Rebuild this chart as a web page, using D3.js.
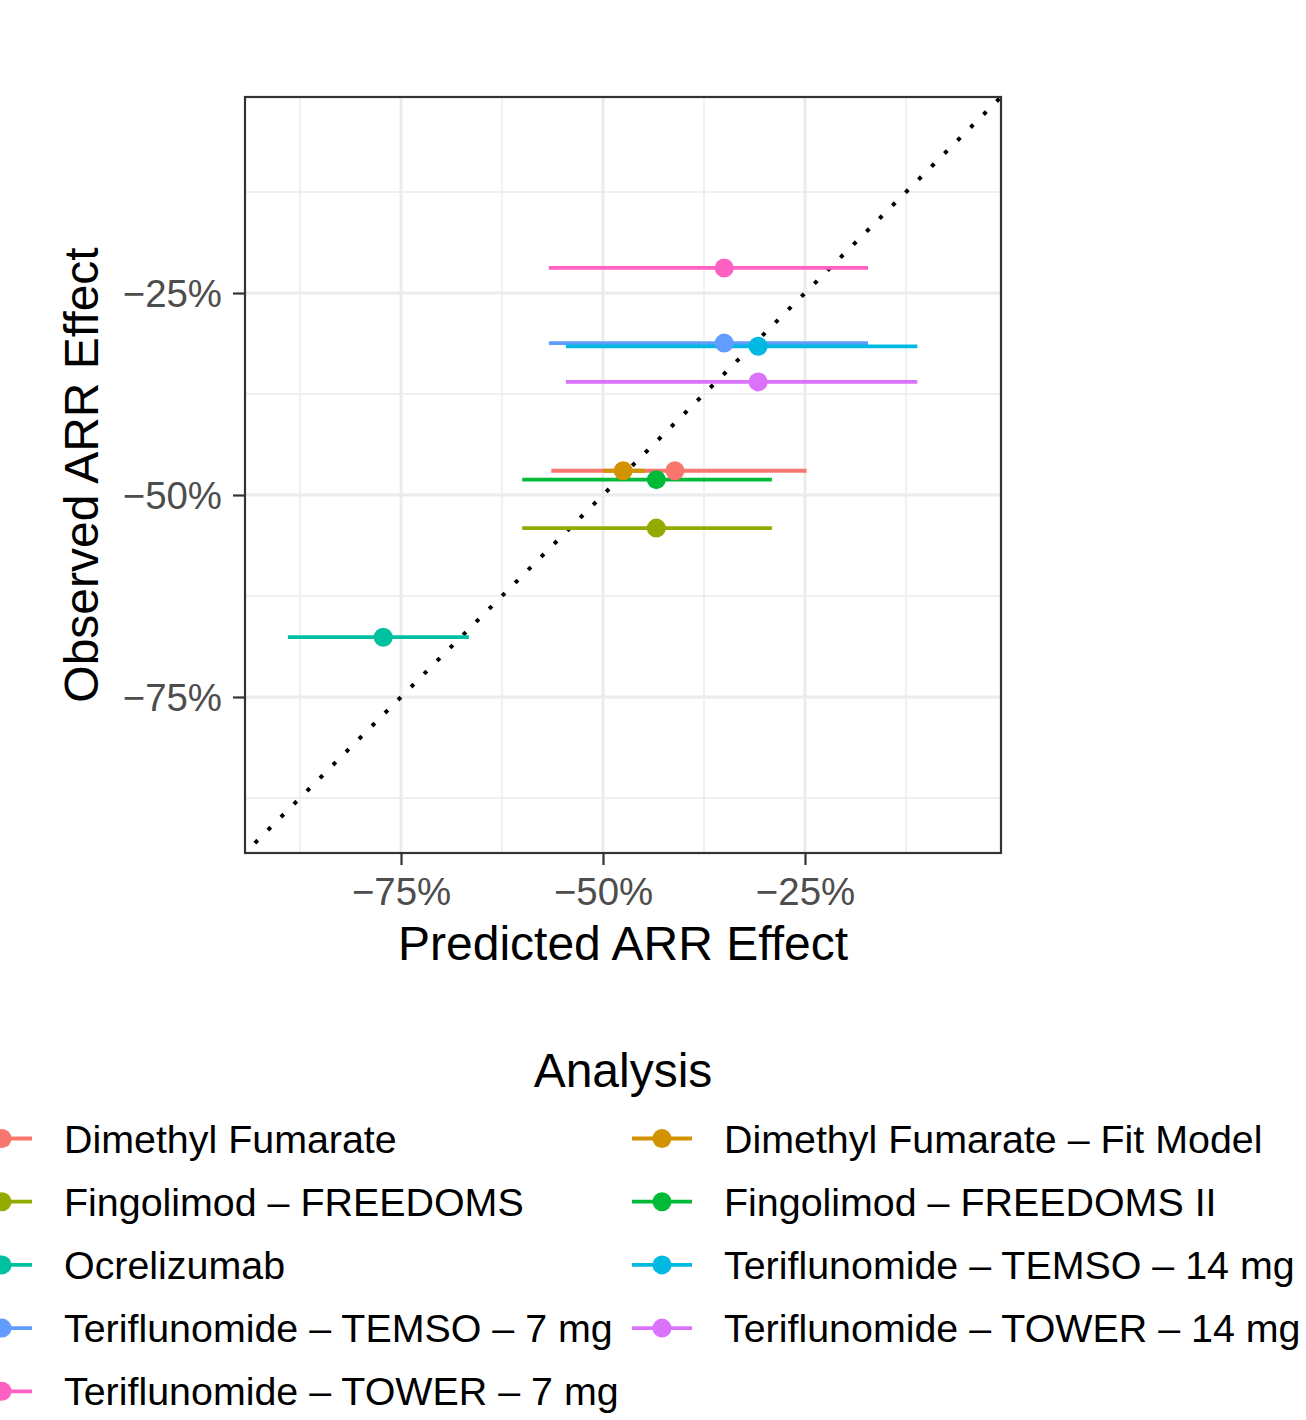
<!DOCTYPE html>
<html><head><meta charset="utf-8">
<script src="https://cdn.jsdelivr.net/npm/d3@7"></script>
<style>body{margin:0;background:#fff;}svg{display:block;font-family:"Liberation Sans",Arial,sans-serif;}</style>
</head><body>
<svg id="chart" width="1306" height="1420"></svg>
<script>
const analyses = ["Dimethyl Fumarate","Dimethyl Fumarate \u2013 Fit Model","Fingolimod \u2013 FREEDOMS","Fingolimod \u2013 FREEDOMS II","Ocrelizumab","Teriflunomide \u2013 TEMSO \u2013 14 mg","Teriflunomide \u2013 TEMSO \u2013 7 mg","Teriflunomide \u2013 TOWER \u2013 14 mg","Teriflunomide \u2013 TOWER \u2013 7 mg"];
const predicted = [-41.1,-47.5,-43.4,-43.4,-77.2,-30.8,-35.0,-30.8,-35.0];
const predLow   = [-56.4,-50.0,-60.0,-60.0,-89.0,-54.6,-56.7,-54.6,-56.7];
const predHigh  = [-24.8,-44.8,-29.1,-29.1,-66.6,-11.1,-17.2,-11.1,-17.2];
const observed  = [-47.0,-47.0,-54.1,-48.1,-67.6,-31.6,-31.2,-36.0,-21.9];
const colors    = ["#F8766D","#D39200","#93AA00","#00BA38","#00C19F","#00B9E3","#619CFF","#DB72FB","#FF61C3"];
const majorTicks = [-75,-50,-25];
const minorTicks = [-87.5,-62.5,-37.5,-12.5];
const domain = [-94.31,-0.74];

// draw order as in reference (TEMSO 7 before TEMSO 14)
const drawOrder = [0,1,2,3,4,6,5,7,8];
// legend columns
const leftCol = [0,2,4,6,8], rightCol = [1,3,5,7];

const svg = d3.select("#chart");
const L=245, R=1001, T=97, B=853;
const x = d3.scaleLinear().domain(domain).range([L,R]);
const y = d3.scaleLinear().domain(domain).range([B,T]);
const fmt = v => d3.format("d")(v).replace("-","\u2212")+"%";

svg.append("defs").append("clipPath").attr("id","clip").append("rect")
  .attr("x",L).attr("y",T).attr("width",R-L).attr("height",B-T);

const grid = svg.append("g");
minorTicks.forEach(v=>{
  grid.append("line").attr("x1",x(v)).attr("x2",x(v)).attr("y1",T).attr("y2",B).attr("stroke","#EBEBEB").attr("stroke-width",1.4);
  grid.append("line").attr("y1",y(v)).attr("y2",y(v)).attr("x1",L).attr("x2",R).attr("stroke","#EBEBEB").attr("stroke-width",1.4);
});
majorTicks.forEach(v=>{
  grid.append("line").attr("x1",x(v)).attr("x2",x(v)).attr("y1",T).attr("y2",B).attr("stroke","#EBEBEB").attr("stroke-width",2.9);
  grid.append("line").attr("y1",y(v)).attr("y2",y(v)).attr("x1",L).attr("x2",R).attr("stroke","#EBEBEB").attr("stroke-width",2.9);
});

const plot = svg.append("g").attr("clip-path","url(#clip)");
plot.append("line").attr("x1",x(domain[0])).attr("y1",y(domain[0])).attr("x2",x(domain[1])).attr("y2",y(domain[1]))
  .attr("stroke","#000").attr("stroke-width",4).attr("stroke-dasharray","4 14.4").attr("stroke-dashoffset",-14);

drawOrder.forEach(i=>{
  plot.append("line").attr("x1",x(predLow[i])).attr("x2",x(predHigh[i])).attr("y1",y(observed[i])).attr("y2",y(observed[i]))
    .attr("stroke",colors[i]).attr("stroke-width",3.8);
});
drawOrder.forEach(i=>{
  plot.append("circle").attr("cx",x(predicted[i])).attr("cy",y(observed[i])).attr("r",9.5).attr("fill",colors[i]);
});

svg.append("rect").attr("x",L).attr("y",T).attr("width",R-L).attr("height",B-T)
  .attr("fill","none").attr("stroke","#333").attr("stroke-width",2.2);

// axes
const xAxis = svg.append("g").attr("transform",`translate(0,${B})`)
  .call(d3.axisBottom(x).tickValues(majorTicks).tickFormat(fmt).tickSize(12).tickPadding(13));
const yAxis = svg.append("g").attr("transform",`translate(${L},0)`)
  .call(d3.axisLeft(y).tickValues(majorTicks).tickFormat(fmt).tickSize(12).tickPadding(11));
[xAxis,yAxis].forEach(a=>{
  a.select(".domain").remove();
  a.selectAll(".tick line").attr("stroke","#333").attr("stroke-width",2.2);
  a.selectAll(".tick text").attr("fill","#4D4D4D").style("font-size","38.4px").style("font-family","'Liberation Sans',Arial,sans-serif");
});
xAxis.selectAll(".tick text").attr("dy","0.71em");
yAxis.selectAll(".tick text").attr("dy","0.36em");

svg.append("text").attr("x",(L+R)/2).attr("y",960).attr("text-anchor","middle")
  .style("font-size","48px").attr("fill","#000").text("Predicted ARR Effect");
svg.append("text").attr("transform",`translate(98,${(T+B)/2}) rotate(-90)`).attr("text-anchor","middle")
  .style("font-size","48px").attr("fill","#000").text("Observed ARR Effect");

// legend
svg.append("text").attr("x",623).attr("y",1087).attr("text-anchor","middle")
  .style("font-size","48px").attr("fill","#000").text("Analysis");
const rowY = r => 1138.5 + r*63.2;
function key(i, kx, ky){
  const g = svg.append("g");
  g.append("line").attr("x1",kx-30).attr("x2",kx+30).attr("y1",ky).attr("y2",ky).attr("stroke",colors[i]).attr("stroke-width",3.8);
  g.append("circle").attr("cx",kx).attr("cy",ky).attr("r",9.5).attr("fill",colors[i]);
}
leftCol.forEach((i,r)=>{
  key(i, 2, rowY(r));
  svg.append("text").attr("x",64).attr("y",rowY(r)).attr("dy","0.36em").style("font-size","39.4px").attr("fill","#000").text(analyses[i]);
});
rightCol.forEach((i,r)=>{
  key(i, 662, rowY(r));
  svg.append("text").attr("x",724).attr("y",rowY(r)).attr("dy","0.36em").style("font-size","39.4px").attr("fill","#000").text(analyses[i]);
});
</script>
</body></html>
